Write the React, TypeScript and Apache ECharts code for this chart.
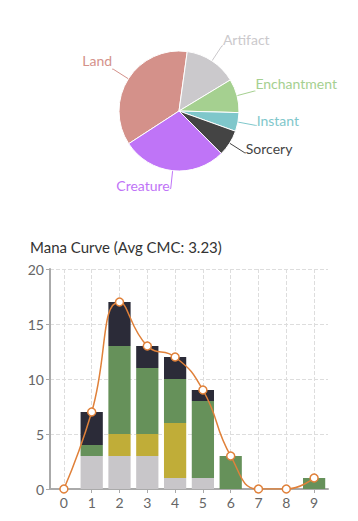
import React, { useEffect, useRef } from "react";
import * as echarts from "echarts";

const typeNames = ["Land", "Artifact", "Enchantment", "Instant", "Sorcery", "Creature"];
const typeCounts = [36, 14, 9, 5, 7, 28];
const typeColors = ["#d4918a", "#cbc9cc", "#a5d090", "#7fc7cb", "#444444", "#bf74f7"];

const cmcLabels = ["0", "1", "2", "3", "4", "5", "6", "7", "8", "9"];
const colorlessCounts = [0, 3, 3, 3, 1, 1, 0, 0, 0, 0];
const whiteCounts = [0, 0, 2, 2, 5, 0, 0, 0, 0, 0];
const greenCounts = [0, 1, 8, 6, 4, 7, 3, 0, 0, 1];
const blackCounts = [0, 3, 4, 2, 2, 1, 0, 0, 0, 0];
const totalCounts = [0, 7, 17, 13, 12, 9, 3, 0, 0, 1];
const yTicks = [0, 5, 10, 15, 20];

const titleText = "Mana Curve (Avg CMC: 3.23)";
const labelShift = [-9, -6, -8, -5, -4, -3];

export default function App() {
  const ref = useRef<HTMLDivElement>(null);
  useEffect(() => {
    if (!ref.current) return;
    const chart = echarts.init(ref.current, null, { renderer: "svg" });
    const font = "Lato, 'Noto Sans', sans-serif";
    const barSeries = (name: string, data: number[], color: string) => ({
      type: "bar",
      name,
      stack: "cmc",
      data,
      barWidth: "80%",
      itemStyle: { color },
      z: 2,
    });
    chart.setOption({
      animation: false,
      textStyle: { fontFamily: font },
      title: {
        text: titleText,
        left: 25,
        top: 234,
        textStyle: { fontFamily: font, fontSize: 15, fontWeight: "normal", color: "#333" },
      },
      grid: { left: 50, right: 30, top: 269, bottom: 32 },
      xAxis: {
        type: "category",
        data: cmcLabels,
        axisLine: { lineStyle: { color: "#aaa", width: 2 } },
        axisTick: { show: true, alignWithLabel: true, length: 4, lineStyle: { color: "#aaa" } },
        axisLabel: { color: "#666", fontSize: 14, fontFamily: font, margin: 6 },
        splitLine: { show: true, alignWithLabel: true, lineStyle: { type: "dashed", color: "#ddd" } },
      },
      yAxis: {
        type: "value",
        min: 0,
        max: yTicks[yTicks.length - 1],
        interval: 5,
        axisLine: { show: true, lineStyle: { color: "#aaa", width: 2 } },
        axisTick: { show: true, length: 4, lineStyle: { color: "#aaa" } },
        axisLabel: { color: "#666", fontSize: 14, fontFamily: font, margin: 6 },
        splitLine: { show: true, lineStyle: { type: "dashed", color: "#ddd" } },
      },
      series: [
        {
          type: "pie",
          center: [179, 111],
          radius: 60,
          startAngle: 213,
          clockwise: true,
          data: typeNames.map((n, i) => ({
            name: n,
            value: typeCounts[i],
            itemStyle: { color: typeColors[i] },
            label: { color: typeColors[i] },
            labelLine: { lineStyle: { color: typeColors[i] } },
          })),
          itemStyle: { borderColor: "#fff", borderWidth: 1 },
          label: { fontSize: 14, fontFamily: font, distanceToLabelLine: 0 },
          labelLine: { length: 18, length2: 1 },
          labelLayout: (p: any) => ({ dy: labelShift[p.dataIndex] ?? -5 }),
        },
        barSeries("Colorless", colorlessCounts, "#c8c6c9"),
        barSeries("White", whiteCounts, "#c0ad38"),
        barSeries("Green", greenCounts, "#66915a"),
        barSeries("Black", blackCounts, "#2b2b38"),
        {
          type: "line",
          name: "Total",
          data: totalCounts,
          smooth: true,
          symbol: "circle",
          symbolSize: 8,
          z: 5,
          lineStyle: { color: "#e0813a", width: 1.5 },
          itemStyle: { color: "#fff", borderColor: "#e0813a", borderWidth: 1.5 },
        },
      ],
    });
    return () => chart.dispose();
  }, []);
  return <div ref={ref} style={{ width: 358, height: 521, position: "absolute", left: 0, top: 0 }} />;
}
